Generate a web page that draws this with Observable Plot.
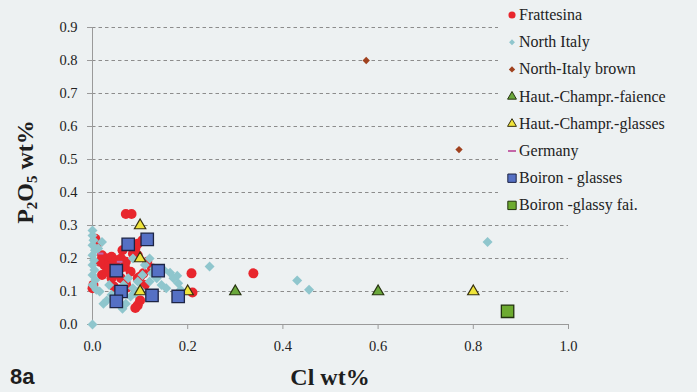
<!DOCTYPE html>
<html><head><meta charset="utf-8">
<script src="https://cdn.jsdelivr.net/npm/d3@7"></script>
<script src="https://cdn.jsdelivr.net/npm/@observablehq/plot@0.6"></script>
<style>
html,body{margin:0;padding:0;background:#edf1f2;}
#wrap{position:relative;width:697px;height:392px;overflow:hidden;font-family:"Liberation Serif",serif;color:#222;}
#wrap svg{position:absolute;left:0;top:0;}
.lab{position:absolute;white-space:nowrap;font-weight:bold;color:#1e1e1e;}
#ylab{left:25px;top:172px;font-size:24px;transform:translate(-50%,-50%) rotate(-90deg);}
#ylab sub{font-size:15px;vertical-align:-4px;line-height:0;}
#xlab{left:330px;top:377px;font-size:24px;transform:translate(-50%,-50%);}
#fig{left:10px;top:377px;font-size:22px;font-family:"Liberation Sans",Arial,sans-serif;transform:translateY(-50%);}
#legend{position:absolute;left:498px;top:0;width:199px;height:216px;background:#edf1f2;}
#legend .row{position:absolute;left:21px;font-size:16px;line-height:20px;white-space:nowrap;color:#222;}
</style></head><body><div id="wrap"></div>
<script>
// ---- data ----
const xTicks = [0.0, 0.2, 0.4, 0.6, 0.8, 1.0];
const yTicks = [0.0, 0.1, 0.2, 0.3, 0.4, 0.5, 0.6, 0.7, 0.8, 0.9];

const frattesinaX = [0.07,0.082,0.095,0.105,0.09,0.006,0.01,0.063,0.085,0.095,0.02,0.03,0.04,0.05,0.06,0.07,0.025,0.035,0.045,0.058,0.068,0.115,0.125,0.02,0.03,0.04,0.048,0.0,0.002,0.07,0.073,0.095,0.1,0.107,0.1,0.095,0.09,0.208,0.21,0.338,0.08,0.11,0.045,0.015,0.06];
const frattesinaY = [0.335,0.335,0.245,0.255,0.23,0.26,0.245,0.225,0.215,0.21,0.21,0.2,0.205,0.195,0.2,0.19,0.18,0.175,0.185,0.17,0.175,0.19,0.17,0.15,0.16,0.14,0.155,0.11,0.12,0.125,0.112,0.14,0.145,0.155,0.073,0.058,0.05,0.155,0.097,0.155,0.16,0.12,0.115,0.19,0.14];

const northItalyX = [0.0,0.0,0.002,0.0,0.005,0.0,0.003,0.0,0.004,0.0,0.006,0.0,0.008,0.0,0.02,0.012,0.023,0.03,0.063,0.07,0.057,0.065,0.075,0.085,0.095,0.105,0.08,0.09,0.1,0.085,0.12,0.11,0.13,0.12,0.125,0.135,0.145,0.155,0.163,0.17,0.178,0.18,0.185,0.15,0.246,0.43,0.455,0.83,0.04,0.05,0.035,0.015];
const northItalyY = [0.285,0.27,0.255,0.24,0.225,0.21,0.195,0.18,0.165,0.15,0.135,0.12,0.105,0.0,0.25,0.23,0.063,0.073,0.048,0.063,0.1,0.12,0.14,0.11,0.13,0.15,0.085,0.095,0.105,0.2,0.2,0.18,0.17,0.13,0.155,0.14,0.12,0.11,0.157,0.14,0.148,0.125,0.105,0.165,0.176,0.133,0.105,0.25,0.09,0.08,0.12,0.1];

const northItalyBrownX = [0.575, 0.77];
const northItalyBrownY = [0.80, 0.53];

const hcFaienceX = [0.30, 0.60];
const hcFaienceY = [0.10, 0.10];

const hcGlassesX = [0.10, 0.10, 0.10, 0.20, 0.80];
const hcGlassesY = [0.30, 0.20, 0.10, 0.10, 0.10];

const germanyX = [0.017, 0.057];
const germanyY = [0.215, 0.19];

const boironGlassesX = [0.075, 0.115, 0.05, 0.138, 0.06, 0.05, 0.125, 0.18];
const boironGlassesY = [0.243, 0.258, 0.163, 0.163, 0.10, 0.07, 0.088, 0.085];

const boironFaienceX = [0.872];
const boironFaienceY = [0.04];

const seriesNames = ["Frattesina","North Italy","North-Italy brown","Haut.-Champr.-faience","Haut.-Champr.-glasses","Germany","Boiron - glasses","Boiron -glassy fai."];

// ---- build ----
const rows = (xs, ys) => xs.map((x, i) => ({x, y: ys[i]}));
const dash = {draw(ctx, size){const w = Math.sqrt(size) * 0.8; ctx.moveTo(-w/2,-1); ctx.lineTo(w/2,-1); ctx.lineTo(w/2,1); ctx.lineTo(-w/2,1); ctx.closePath();}};
const fmt = d3.format(".1f");

const chart = Plot.plot({
  width: 697, height: 392,
  marginLeft: 92, marginRight: 129, marginTop: 27, marginBottom: 68,
  style: {background: "transparent", fontSize: "14.5px", color: "#222", fontFamily: "Liberation Serif"},
  x: {domain: [0, 1]},
  y: {domain: [0, 0.9]},
  marks: [
    Plot.gridY(yTicks.filter(d => d > 0), {stroke: "#8c8c8c", strokeOpacity: 1, strokeDasharray: "3.5,3"}),
    Plot.ruleY([0], {stroke: "#9a9a9a"}),
    Plot.ruleX([0], {stroke: "#9a9a9a"}),
    Plot.axisY(yTicks, {tickSize: 5, tickPadding: 10, tickFormat: fmt, label: null, stroke: "#9a9a9a", fill: "#222", fontSize: 14.5, fontFamily: "Liberation Serif"}),
    Plot.axisX(xTicks, {tickSize: 5, tickPadding: 11, tickFormat: fmt, label: null, stroke: "#9a9a9a", fill: "#222", fontSize: 14.5, fontFamily: "Liberation Serif"}),
    Plot.dot(rows(frattesinaX, frattesinaY), {x: "x", y: "y", r: 5, fill: "#e8262d", symbol: "circle"}),
    Plot.dot(rows(northItalyX, northItalyY), {x: "x", y: "y", r: 4.5, fill: "#8fc6cd", symbol: "diamond2"}),
    Plot.dot(rows(northItalyBrownX, northItalyBrownY), {x: "x", y: "y", r: 3.3, fill: "#a0421f", symbol: "diamond2"}),
    Plot.dot(rows(hcFaienceX, hcFaienceY), {x: "x", y: "y", r: 4.2, fill: "#6aa83b", stroke: "#26330f", strokeWidth: 1.2, symbol: "triangle"}),
    Plot.dot(rows(hcGlassesX, hcGlassesY), {x: "x", y: "y", r: 4.2, fill: "#efe43a", stroke: "#36300f", strokeWidth: 1.2, symbol: "triangle"}),
    Plot.dot(rows(germanyX, germanyY), {x: "x", y: "y", r: 4, fill: "#c466a8", symbol: dash}),
    Plot.dot(rows(boironGlassesX, boironGlassesY), {x: "x", y: "y", r: 7, fill: "#5570c4", stroke: "#1d2444", strokeWidth: 1.3, symbol: "square"}),
    Plot.dot(rows(boironFaienceX, boironFaienceY), {x: "x", y: "y", r: 7, fill: "#6dab30", stroke: "#22320e", strokeWidth: 1.3, symbol: "square"})
  ]
});

const wrap = document.getElementById("wrap");
wrap.appendChild(chart);

// legend (HTML text, SVG markers)
const legendStyles = [
  {sym: d3.symbolCircle, size: 40, fill: "#e8262d"},
  {sym: d3.symbolDiamond2, size: 22, fill: "#8fc6cd"},
  {sym: d3.symbolDiamond2, size: 26, fill: "#a0421f"},
  {sym: d3.symbolTriangle, size: 34, fill: "#6aa83b", stroke: "#26330f"},
  {sym: d3.symbolTriangle, size: 34, fill: "#efe43a", stroke: "#36300f"},
  {sym: dash, size: 100, fill: "#c466a8"},
  {sym: d3.symbolSquare, size: 70, fill: "#5570c4", stroke: "#1d2444"},
  {sym: d3.symbolSquare, size: 70, fill: "#6dab30", stroke: "#22320e"}
];
const leg = document.createElement("div");
leg.id = "legend";
wrap.appendChild(leg);
const lsvg = d3.select(leg).append("svg").attr("width", 20).attr("height", 216);
seriesNames.forEach((name, i) => {
  const cy = 15 + i * 27.2;
  const s = legendStyles[i];
  lsvg.append("path").attr("transform", `translate(14,${cy})`)
    .attr("d", d3.symbol(s.sym, s.size)())
    .attr("fill", s.fill).attr("stroke", s.stroke || "none").attr("stroke-width", 1);
  const row = document.createElement("div");
  row.className = "row";
  row.style.top = (cy - 10) + "px";
  row.textContent = name;
  leg.appendChild(row);
});

// axis titles
const yl = document.createElement("div"); yl.className = "lab"; yl.id = "ylab";
yl.innerHTML = "P<sub>2</sub>O<sub>5</sub> wt%"; wrap.appendChild(yl);
const xl = document.createElement("div"); xl.className = "lab"; xl.id = "xlab";
xl.textContent = "Cl wt%"; wrap.appendChild(xl);
const fg = document.createElement("div"); fg.className = "lab"; fg.id = "fig";
fg.textContent = "8a"; wrap.appendChild(fg);
</script>
</body></html>
